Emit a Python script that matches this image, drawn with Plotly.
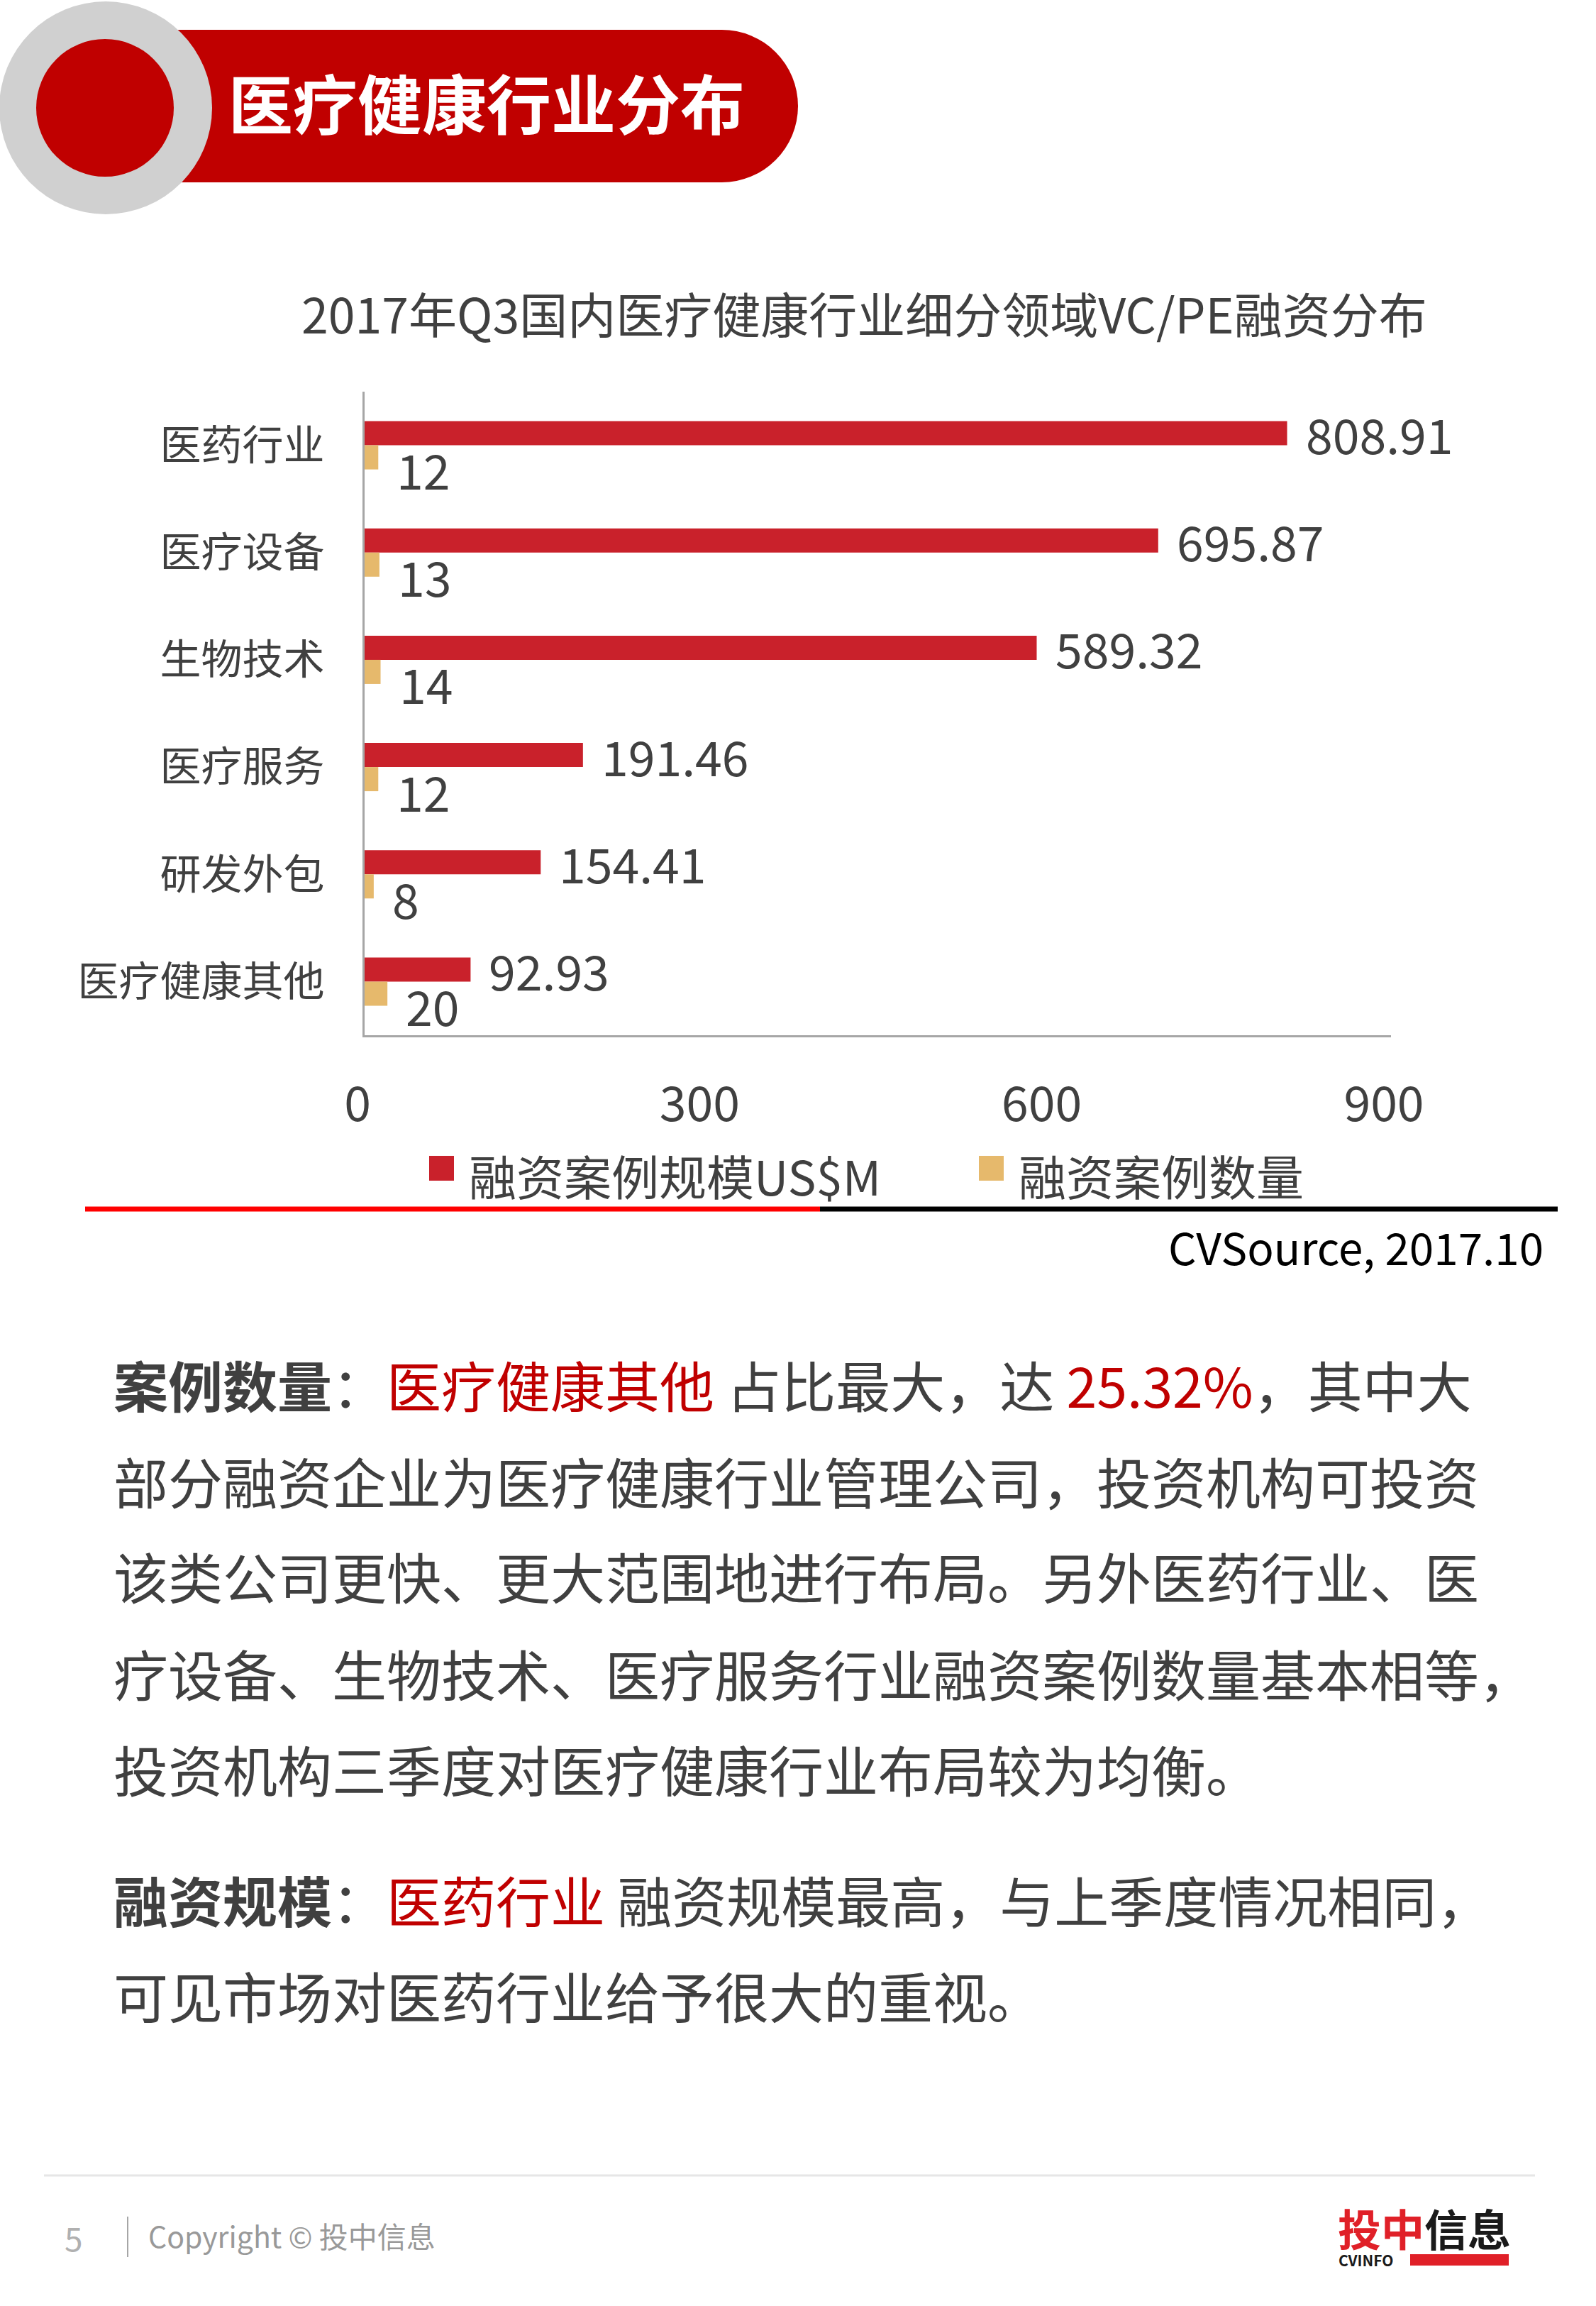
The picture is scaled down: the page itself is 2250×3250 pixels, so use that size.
import plotly.graph_objects as go

# ---------------- data ----------------
categories = ["医药行业", "医疗设备", "生物技术", "医疗服务", "研发外包", "医疗健康其他"]
amounts = [808.91, 695.87, 589.32, 191.46, 154.41, 92.93]   # 融资案例规模US$M
counts = [12, 13, 14, 12, 8, 20]                             # 融资案例数量
x_ticks = [0, 300, 600, 900]
series_names = ["融资案例规模US$M", "融资案例数量"]

W, H = 2250, 3250
FONT = "Microsoft YaHei, Noto Sans CJK SC, sans-serif"
RED_BAR = "#C9212B"
GOLD_BAR = "#E6B96C"
TXT = "#404040"
HL = "#C00000"


def X(px):
    return px / W


def Y(py):
    return 1 - py / H


fig = go.Figure()
fig.add_trace(go.Bar(y=categories, x=amounts, orientation="h", name=series_names[0],
                     marker=dict(color=RED_BAR, line=dict(width=0)), showlegend=False,
                     hoverinfo="x+y"))
fig.add_trace(go.Bar(y=categories, x=counts, orientation="h", name=series_names[1],
                     marker=dict(color=GOLD_BAR, line=dict(width=0)), showlegend=False,
                     hoverinfo="x+y"))

annotations = []
shapes = []

# value labels
for c, v in zip(categories, amounts):
    annotations.append(dict(x=v, y=c, xref="x", yref="y", text=f"{v:.2f}", showarrow=False,
                            xanchor="left", yanchor="middle", xshift=24, yshift=17,
                            font=dict(family=FONT, size=68, color=TXT)))
for c, v in zip(categories, counts):
    annotations.append(dict(x=v, y=c, xref="x", yref="y", text=str(v), showarrow=False,
                            xanchor="left", yanchor="middle", xshift=24, yshift=-33,
                            font=dict(family=FONT, size=68, color=TXT)))

# ---------------- header ----------------
shapes.append(dict(type="rect", xref="paper", yref="paper", x0=X(148), x1=X(1018),
                   y0=Y(257), y1=Y(42), fillcolor="#C00000", line=dict(width=0)))
shapes.append(dict(type="circle", xref="paper", yref="paper", x0=X(910), x1=X(1125),
                   y0=Y(257), y1=Y(42), fillcolor="#C00000", line=dict(width=0)))
shapes.append(dict(type="circle", xref="paper", yref="paper", x0=X(-1), x1=X(299),
                   y0=Y(302), y1=Y(2), fillcolor="#D0D0D0", line=dict(width=0)))
shapes.append(dict(type="circle", xref="paper", yref="paper", x0=X(51), x1=X(245),
                   y0=Y(249), y1=Y(55), fillcolor="#C00000", line=dict(width=0)))
annotations.append(dict(x=X(320), y=Y(142), xref="paper", yref="paper",
                        text="<b>医疗健康行业分布</b>", showarrow=False,
                        xanchor="left", yanchor="middle",
                        font=dict(family=FONT, size=91, color="white")))

# chart title
annotations.append(dict(x=X(1218), y=Y(440), xref="paper", yref="paper",
                        text="2017年Q3国内医疗健康行业细分领域VC/PE融资分布", showarrow=False,
                        xanchor="center", yanchor="middle",
                        font=dict(family=FONT, size=68, color=TXT)))

# ---------------- legend (manual) ----------------
leg = [(605, RED_BAR, series_names[0]), (1380, GOLD_BAR, series_names[1])]
for x0, col, name in leg:
    shapes.append(dict(type="rect", xref="paper", yref="paper", x0=X(x0), x1=X(x0 + 35),
                       y0=Y(1664), y1=Y(1629), fillcolor=col, line=dict(width=0)))
    annotations.append(dict(x=X(x0 + 54), y=Y(1656), xref="paper", yref="paper", text=name,
                            showarrow=False, xanchor="left", yanchor="middle",
                            font=dict(family=FONT, size=67, color=TXT)))

# source line
shapes.append(dict(type="line", xref="paper", yref="paper", x0=X(120), x1=X(1156),
                   y0=Y(1704), y1=Y(1704), line=dict(color="#FF0000", width=7)))
shapes.append(dict(type="line", xref="paper", yref="paper", x0=X(1156), x1=X(2196),
                   y0=Y(1704), y1=Y(1704), line=dict(color="#000000", width=7)))
annotations.append(dict(x=X(2178), y=Y(1756), xref="paper", yref="paper",
                        text="CVSource, 2017.10", showarrow=False,
                        xanchor="right", yanchor="middle",
                        font=dict(family=FONT, size=62, color="#000000")))

# ---------------- body text ----------------
def red(s):
    return f"<span style='color:{HL}'>{s}</span>"


lines = [
    (1950, f"<b>案例数量</b>：{red('医疗健康其他')} 占比最大，达 {red('25.32%')}，其中大"),
    (2086, "部分融资企业为医疗健康行业管理公司，投资机构可投资"),
    (2220, "该类公司更快、更大范围地进行布局。另外医药行业、医"),
    (2357, "疗设备、生物技术、医疗服务行业融资案例数量基本相等，"),
    (2492, "投资机构三季度对医疗健康行业布局较为均衡。"),
    (2676, f"<b>融资规模</b>：{red('医药行业')} 融资规模最高，与上季度情况相同，"),
    (2811, "可见市场对医药行业给予很大的重视。"),
]
for yy, t in lines:
    annotations.append(dict(x=X(158), y=Y(yy), xref="paper", yref="paper", text=t,
                            showarrow=False, xanchor="left", yanchor="middle",
                            font=dict(family=FONT, size=77, color=TXT)))

# ---------------- footer ----------------
shapes.append(dict(type="line", xref="paper", yref="paper", x0=X(62), x1=X(2164),
                   y0=Y(3066), y1=Y(3066), line=dict(color="#E6E6E6", width=3)))
shapes.append(dict(type="line", xref="paper", yref="paper", x0=X(180), x1=X(180),
                   y0=Y(3181), y1=Y(3124), line=dict(color="#A6A6A6", width=2)))
annotations.append(dict(x=X(104), y=Y(3153), xref="paper", yref="paper", text="5",
                        showarrow=False, xanchor="center", yanchor="middle",
                        font=dict(family=FONT, size=46, color="#B0B0B0")))
annotations.append(dict(x=X(207), y=Y(3150), xref="paper", yref="paper",
                        text="Copyright © 投中信息", showarrow=False,
                        xanchor="left", yanchor="middle",
                        font=dict(family=FONT, size=41, color="#999999")))
annotations.append(dict(x=X(1884), y=Y(3139), xref="paper", yref="paper",
                        text="<b><span style='color:#E02028'>投中</span><span style='color:#1A1A1A'>信息</span></b>",
                        showarrow=False, xanchor="left", yanchor="middle",
                        font=dict(family=FONT, size=61)))
annotations.append(dict(x=X(1885), y=Y(3185), xref="paper", yref="paper",
                        text="<b>CVINFO</b>", showarrow=False, xanchor="left", yanchor="middle",
                        font=dict(family=FONT, size=21, color="#1A1A1A")))
shapes.append(dict(type="rect", xref="paper", yref="paper", x0=X(1988), x1=X(2127),
                   y0=Y(3193), y1=Y(3177), fillcolor="#E02028", line=dict(width=0)))

fig.update_layout(
    template="none",
    width=W, height=H, autosize=False,
    margin=dict(l=0, r=0, t=0, b=0, pad=0, autoexpand=False),
    paper_bgcolor="white", plot_bgcolor="white",
    barmode="group", bargap=0.55, bargroupgap=0,
    showlegend=False,
    font=dict(family=FONT, color=TXT),
    xaxis=dict(domain=[X(514), X(1961)], range=[0, 900], tickvals=x_ticks,
               ticktext=[str(t) for t in x_ticks], showgrid=False, zeroline=False,
               showline=True, linecolor="#A6A6A6", linewidth=3, ticks="",
               tickfont=dict(family=FONT, size=68, color=TXT), ticklabelstandoff=36,
               ticklabelshift=-10, automargin=False, fixedrange=True),
    yaxis=dict(domain=[Y(1459), Y(552)], type="category", range=[5.5, -0.5],
               autorange=False,
               showgrid=False, zeroline=False, showline=True, linecolor="#A6A6A6",
               linewidth=3, ticks="", tickfont=dict(family=FONT, size=58, color=TXT),
               ticklabelstandoff=42, automargin=False, fixedrange=True),
    shapes=shapes,
    annotations=annotations,
)

fig.write_html("out.html", config={"displayModeBar": False},
               post_script="document.body.style.margin='0';document.body.style.padding='0';"
                           "document.documentElement.style.overflow='hidden';")
